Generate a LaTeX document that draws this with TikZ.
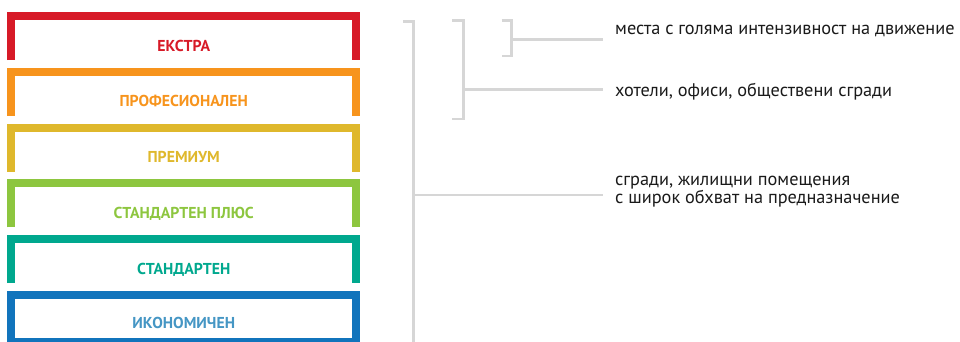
\documentclass[tikz,border=0pt]{standalone}
\usepackage{fontspec}
\setmainfont{PT Sans}
\usetikzlibrary{positioning,calc}

\begin{document}
\begin{tikzpicture}[x=1pt, y=-1pt,
    frame/.style={line width=8pt, line cap=butt, line join=miter},
    grade/.style={anchor=base, font=\bfseries\fontsize{15.8}{17}\selectfont, inner sep=0pt},
    brace/.style={draw=braceGray, line width=2.6pt, line cap=butt, line join=miter},
    desc/.style={anchor=base west, align=left, inner sep=0pt, text=descText,
                 font=\fontsize{18.3}{18}\selectfont}]
    % Color Palette
    \definecolor{extraBorder}{HTML}{D71A27}
    \definecolor{proBorder}{HTML}{F7941D}
    \definecolor{premBorder}{HTML}{DFB82C}
    \definecolor{plusBorder}{HTML}{8DC63F}
    \definecolor{stdBorder}{HTML}{00A88E}
    \definecolor{ecoBorder}{HTML}{1174BC}
    \definecolor{ecoText}{HTML}{4596C4}
    \definecolor{braceGray}{HTML}{D6D6D6}
    \definecolor{descText}{HTML}{1A1A1A}

    \clip (0,0) rectangle (960,341);

    % --- Grade frames (left) ---
    \draw[frame, extraBorder] (11.3,60) -- (11.3,16) -- (356,16) -- (356,60);
    \node[grade, text=extraBorder] (extra) at (183.7,51) {ЕКСТРА};

    \draw[frame, proBorder] (11.3,115.75) -- (11.3,71.75) -- (356,71.75) -- (356,115.75);
    \node[grade, text=proBorder] (pro) at (183.7,106.5) {ПРОФЕСИОНАЛЕН};

    \draw[frame, premBorder] (11.3,171.5) -- (11.3,127.5) -- (356,127.5) -- (356,171.5);
    \node[grade, text=premBorder] (prem) at (183.7,162.5) {ПРЕМИУМ};

    \draw[frame, plusBorder] (11.3,227.25) -- (11.3,183.25) -- (356,183.25) -- (356,227.25);
    \node[grade, text=plusBorder] (plus) at (183.7,218.25) {СТАНДАРТЕН ПЛЮС};

    \draw[frame, stdBorder] (11.3,283) -- (11.3,239) -- (356,239) -- (356,283);
    \node[grade, text=stdBorder] (std) at (183.7,274) {СТАНДАРТЕН};

    \draw[frame, ecoBorder] (11.3,294.75) rectangle (356,342.3);
    \node[grade, text=ecoText] (eco) at (183.7,328) {ИКОНОМИЧЕН};

    % --- Brackets ---
    \coordinate (bigTop) at (413.3,21.7);
    \coordinate (bigMid) at (413.3,195);
    \coordinate (midTop) at (463.3,20.7);
    \coordinate (midMid) at (463.3,89.3);
    \coordinate (midBot) at (463.3,119);
    \coordinate (smlTop) at (511.7,20.7);
    \coordinate (smlMid) at (511.7,39.3);
    \coordinate (smlBot) at (511.7,56);

    \draw[brace] ($(bigTop)+(-10.3,0)$) -- (bigTop) -- (413.3,350);
    \draw[brace] ($(midTop)+(-11.3,0)$) -- (midTop) -- (midBot) -- ++(-11.3,0);
    \draw[brace] ($(smlTop)+(-10,0)$) -- (smlTop) -- (smlBot) -- ++(-10,0);

    % --- Descriptions (right) ---
    \coordinate (smlEnd) at (603,39.3);
    \coordinate (midEnd) at (603,89.3);
    \coordinate (bigEnd) at (603,195);

    \node[desc] (traffic) at (615,34) {места с голяма интензивност на движение};
    \node[desc] (hotels) at (615,96) {хотели, офиси, обществени сгради};
    \node[desc] (homes) at (615,203) {сгради, жилищни помещения\\с широк обхват на предназначение};

    % Connectors
    \draw[brace] (smlMid) -- (smlEnd);
    \draw[brace] (midMid) -- (midEnd);
    \draw[brace] (bigMid) -- (bigEnd);

\end{tikzpicture}
\end{document}
